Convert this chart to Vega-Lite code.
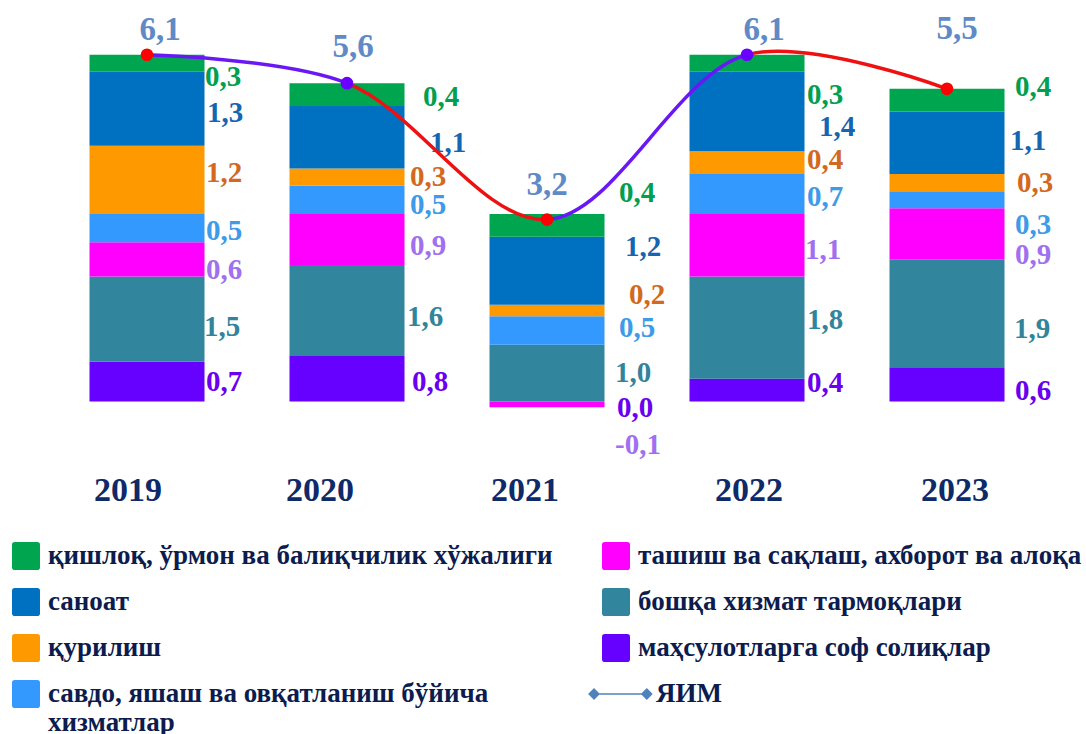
{
  "$schema": "https://vega.github.io/schema/vega-lite/v6.json",
  "autosize": {"type": "none"},
  "width": 1000,
  "height": 432,
  "padding": {"left": 47, "top": 32, "right": 39, "bottom": 270},
  "background": "#ffffff",
  "config": {
    "view": {"stroke": null}
  },
  "datasets": {
    "sectors": [
      {"year": "2019", "sector": "маҳсулотларга соф солиқлар", "value": 0.7},
      {"year": "2019", "sector": "бошқа хизмат тармоқлари", "value": 1.5},
      {"year": "2019", "sector": "ташиш ва сақлаш, ахборот ва алоқа", "value": 0.6},
      {"year": "2019", "sector": "савдо, яшаш ва овқатланиш бўйича хизматлар", "value": 0.5},
      {"year": "2019", "sector": "қурилиш", "value": 1.2},
      {"year": "2019", "sector": "саноат", "value": 1.3},
      {"year": "2019", "sector": "қишлоқ, ўрмон ва балиқчилик хўжалиги", "value": 0.3},
      {"year": "2020", "sector": "маҳсулотларга соф солиқлар", "value": 0.8},
      {"year": "2020", "sector": "бошқа хизмат тармоқлари", "value": 1.6},
      {"year": "2020", "sector": "ташиш ва сақлаш, ахборот ва алоқа", "value": 0.9},
      {"year": "2020", "sector": "савдо, яшаш ва овқатланиш бўйича хизматлар", "value": 0.5},
      {"year": "2020", "sector": "қурилиш", "value": 0.3},
      {"year": "2020", "sector": "саноат", "value": 1.1},
      {"year": "2020", "sector": "қишлоқ, ўрмон ва балиқчилик хўжалиги", "value": 0.4},
      {"year": "2021", "sector": "маҳсулотларга соф солиқлар", "value": 0.0},
      {"year": "2021", "sector": "бошқа хизмат тармоқлари", "value": 1.0},
      {"year": "2021", "sector": "ташиш ва сақлаш, ахборот ва алоқа", "value": -0.1},
      {"year": "2021", "sector": "савдо, яшаш ва овқатланиш бўйича хизматлар", "value": 0.5},
      {"year": "2021", "sector": "қурилиш", "value": 0.2},
      {"year": "2021", "sector": "саноат", "value": 1.2},
      {"year": "2021", "sector": "қишлоқ, ўрмон ва балиқчилик хўжалиги", "value": 0.4},
      {"year": "2022", "sector": "маҳсулотларга соф солиқлар", "value": 0.4},
      {"year": "2022", "sector": "бошқа хизмат тармоқлари", "value": 1.8},
      {"year": "2022", "sector": "ташиш ва сақлаш, ахборот ва алоқа", "value": 1.1},
      {"year": "2022", "sector": "савдо, яшаш ва овқатланиш бўйича хизматлар", "value": 0.7},
      {"year": "2022", "sector": "қурилиш", "value": 0.4},
      {"year": "2022", "sector": "саноат", "value": 1.4},
      {"year": "2022", "sector": "қишлоқ, ўрмон ва балиқчилик хўжалиги", "value": 0.3},
      {"year": "2023", "sector": "маҳсулотларга соф солиқлар", "value": 0.6},
      {"year": "2023", "sector": "бошқа хизмат тармоқлари", "value": 1.9},
      {"year": "2023", "sector": "ташиш ва сақлаш, ахборот ва алоқа", "value": 0.9},
      {"year": "2023", "sector": "савдо, яшаш ва овқатланиш бўйича хизматлар", "value": 0.3},
      {"year": "2023", "sector": "қурилиш", "value": 0.3},
      {"year": "2023", "sector": "саноат", "value": 1.1},
      {"year": "2023", "sector": "қишлоқ, ўрмон ва балиқчилик хўжалиги", "value": 0.4}
    ],
    "gdp": [
      {"year": "2019", "gdp": 6.1},
      {"year": "2020", "gdp": 5.6},
      {"year": "2021", "gdp": 3.2},
      {"year": "2022", "gdp": 6.1},
      {"year": "2023", "gdp": 5.5}
    ]
  },
  "encoding": {
    "x": {
      "field": "year", "type": "nominal",
      "scale": {"paddingInner": 0.425, "paddingOuter": 0.2125},
      "axis": {
        "title": null, "domain": false, "ticks": false, "grid": false, "labelAngle": 0,
        "labelFont": "Liberation Serif", "labelFontWeight": "bold", "labelFontSize": 34,
        "labelColor": "#0f2a69", "labelPadding": 9,
        "labelOffset": {"expr": "datum.value=='2019' ? -19 : datum.value=='2020' ? -27 : datum.value=='2021' ? -22 : datum.value=='2022' ? 2 : 8"}
      }
    }
  },
  "layer": [
    {
      "data": {"name": "sectors"},
      "transform": [
        {"calculate": "indexof(['маҳсулотларга соф солиқлар','бошқа хизмат тармоқлари','ташиш ва сақлаш, ахборот ва алоқа','савдо, яшаш ва овқатланиш бўйича хизматлар','қурилиш','саноат','қишлоқ, ўрмон ва балиқчилик хўжалиги'], datum.sector)", "as": "k"},
        {"stack": "value", "groupby": ["year"], "sort": [{"field": "k", "order": "ascending"}], "as": ["v0", "v1"]}
      ],
      "mark": {"type": "bar"},
      "encoding": {
        "y": {"field": "v0", "type": "quantitative", "scale": {"domain": [-1.1, 6.5], "nice": false, "zero": false}, "axis": null},
        "y2": {"field": "v1"},
        "color": {
          "field": "sector", "type": "nominal",
          "scale": {
            "domain": ["қишлоқ, ўрмон ва балиқчилик хўжалиги", "саноат", "қурилиш", "савдо, яшаш ва овқатланиш бўйича хизматлар", "ташиш ва сақлаш, ахборот ва алоқа", "бошқа хизмат тармоқлари", "маҳсулотларга соф солиқлар", "ЯИМ"],
            "range": ["#00a550", "#0070c0", "#ff9900", "#3399ff", "#ff00ff", "#31859c", "#6600ff", "#4f81bd"]
          },
          "legend": {
            "orient": "none", "legendX": -35, "legendY": 510, "columns": 2, "direction": "vertical",
            "title": null, "padding": 0,
            "symbolSize": 784, "symbolStrokeWidth": 0,
            "symbolType": "M-0.8,-1H0.8Q1,-1 1,-0.8V0.8Q1,1 0.8,1H-0.8Q-1,1 -1,0.8V-0.8Q-1,-1 -0.8,-1Z",
            "labelFont": "Liberation Serif", "labelFontWeight": "bold", "labelFontSize": 27,
            "labelColor": "#0c1c4e", "labelLimit": 800, "labelOffset": 8,
            "rowPadding": 18, "columnPadding": 35,
            "labelExpr": "datum.label == 'савдо, яшаш ва овқатланиш бўйича хизматлар' ? ['савдо, яшаш ва овқатланиш бўйича', 'хизматлар'] : datum.label",
            "encode": {
              "symbols": {"update": {"shape": {"signal": "datum.value === 'ЯИМ' ? 'M-1.57,-0.42L-1.15,0L-1.57,0.42L-1.99,0Z M-1.57,-0.05H2.2V0.05H-1.57Z M2.2,-0.42L2.62,0L2.2,0.42L1.78,0Z' : 'M-0.8,-1H0.8Q1,-1 1,-0.8V0.8Q1,1 0.8,1H-0.8Q-1,1 -1,0.8V-0.8Q-1,-1 -0.8,-1Z'"}}},
              "labels": {"update": {"dx": {"signal": "datum.value === 'ЯИМ' ? 18 : 0"}}}
            }
          }
        }
      }
    },
    {
      "data": {"name": "sectors"},
      "mark": {"type": "rule", "color": "#a6a6a6", "strokeWidth": 1.2},
      "encoding": {"y": {"datum": 0, "type": "quantitative"}}
    },
    {
      "data": {"name": "sectors"},
      "transform": [
        {"calculate": "indexof(['маҳсулотларга соф солиқлар','бошқа хизмат тармоқлари','ташиш ва сақлаш, ахборот ва алоқа','савдо, яшаш ва овқатланиш бўйича хизматлар','қурилиш','саноат','қишлоқ, ўрмон ва балиқчилик хўжалиги'], datum.sector)", "as": "k"},
        {"stack": "value", "groupby": ["year"], "sort": [{"field": "k", "order": "ascending"}], "as": ["v0", "v1"]},
        {"calculate": "(datum.v0 + datum.v1) / 2 + ({'2019': [0, -0.14, -0.18, -0.05, 0.12, -0.07, -0.25], '2020': [-0.05, -0.12, -0.12, -0.09, 0, -0.1, -0.05], '2021': [-0.11, 0, -0.72, 0.05, 0.28, 0.42, 0.56], '2022': [0.12, 0.13, -0.08, -0.05, 0.05, -0.27, -0.56], '2023': [-0.12, -0.28, -0.37, -0.44, 0, 0.03, 0.23]})[datum.year][datum.k]", "as": "ly"},
        {"calculate": "replace(replace(format(datum.value, '.1f'), '.', ','), '\u2212', '-')", "as": "txt"}
      ],
      "mark": {
        "type": "text", "align": "left", "baseline": "middle",
        "dx": {"expr": "({'2019': [59, 57, 59, 59, 59, 60, 58], '2020': [65, 60, 63, 63, 63, 83, 76], '2021': [70, 68, 68, 72, 82, 78, 72], '2022': [60, 60, 58, 60, 60, 72, 60], '2023': [68, 67, 68, 68, 70, 63, 68]})[datum.year][datum.k]"},
        "font": "Liberation Serif", "fontWeight": "bold", "fontSize": 29
      },
      "encoding": {
        "y": {"field": "ly", "type": "quantitative"},
        "text": {"field": "txt", "type": "nominal"},
        "color": {
          "field": "sector", "type": "nominal", "legend": null,
          "scale": {
            "domain": ["қишлоқ, ўрмон ва балиқчилик хўжалиги", "саноат", "қурилиш", "савдо, яшаш ва овқатланиш бўйича хизматлар", "ташиш ва сақлаш, ахборот ва алоқа", "бошқа хизмат тармоқлари", "маҳсулотларга соф солиқлар"],
            "range": ["#00a050", "#1565b0", "#d2691e", "#3d9be9", "#a070f0", "#31849b", "#6a00f0"]
          }
        }
      }
    },
    {
      "data": {"name": "gdp"},
      "mark": {
        "type": "line", "interpolate": "catmull-rom", "strokeWidth": 3.5,
        "stroke": {
          "gradient": "linear", "x1": 0, "y1": 0, "x2": 1, "y2": 0,
          "stops": [
            {"offset": 0, "color": "#6a17f5"},
            {"offset": 0.25, "color": "#6a17f5"},
            {"offset": 0.2501, "color": "#ee1111"},
            {"offset": 0.5, "color": "#ee1111"},
            {"offset": 0.5001, "color": "#6a17f5"},
            {"offset": 0.75, "color": "#6a17f5"},
            {"offset": 0.7501, "color": "#ee1111"},
            {"offset": 1, "color": "#ee1111"}
          ]
        }
      },
      "encoding": {
        "y": {"field": "gdp", "type": "quantitative"}
      }
    },
    {
      "data": {"name": "gdp"},
      "mark": {"type": "point", "filled": true, "size": 160, "opacity": 1},
      "encoding": {
        "y": {"field": "gdp", "type": "quantitative"},
        "color": {"condition": {"test": "datum.year=='2020' || datum.year=='2022'", "value": "#6a00ff"}, "value": "#ff0000"}
      }
    },
    {
      "data": {"name": "gdp"},
      "transform": [
        {"calculate": "replace(format(datum.gdp, '.1f'), '.', ',')", "as": "txt"}
      ],
      "mark": {
        "type": "text", "baseline": "middle",
        "dx": {"expr": "({'2019': 13, '2020': 6, '2021': 0, '2022': 17, '2023': 10})[datum.year]"},
        "dy": {"expr": "({'2019': -25, '2020': -36, '2021': -35, '2022': -25, '2023': -60})[datum.year]"},
        "font": "Liberation Serif", "fontWeight": "bold", "fontSize": 33, "color": "#5f8ac6"
      },
      "encoding": {
        "y": {"field": "gdp", "type": "quantitative"},
        "text": {"field": "txt", "type": "nominal"}
      }
    }
  ],
  "resolve": {"scale": {"color": "independent"}}
}
